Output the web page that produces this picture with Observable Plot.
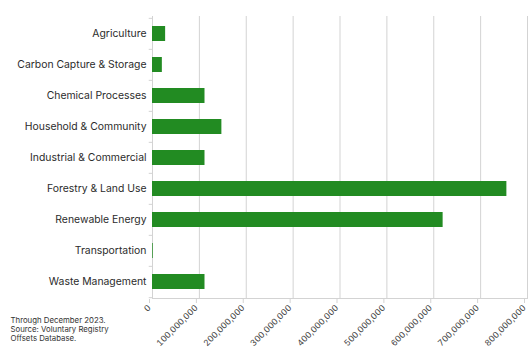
<!DOCTYPE html>
<html>
<head>
<meta charset="utf-8">
<script src="https://cdn.jsdelivr.net/npm/d3@7"></script>
<script src="https://cdn.jsdelivr.net/npm/@observablehq/plot@0.6"></script>
<style>
  html, body { margin: 0; padding: 0; background: #fff; }
  #chart svg { display: block; }
</style>
</head>
<body>
<div id="chart"></div>
<script>
const categories = [
  "Agriculture",
  "Carbon Capture & Storage",
  "Chemical Processes",
  "Household & Community",
  "Industrial & Commercial",
  "Forestry & Land Use",
  "Renewable Energy",
  "Transportation",
  "Waste Management"
];
const values = [28000000, 21000000, 112000000, 148000000, 112000000, 756000000, 620000000, 1500000, 112000000];
const xTicks = [0, 100000000, 200000000, 300000000, 400000000, 500000000, 600000000, 700000000, 800000000];
const captionLines = ["Through December 2023.", "Source: Voluntary Registry", "Offsets Database."];

const data = categories.map((c, i) => ({category: c, value: values[i]}));
const grid = "#d3d3d3";
const step = (353 - 55 - 16) / categories.length;

const chart = Plot.plot({
  width: 529,
  height: 353,
  marginLeft: 152,
  marginRight: 2,
  marginTop: 16,
  marginBottom: 55,
  style: {fontFamily: "Inter, sans-serif", color: "#333", background: "#fff"},
  x: {domain: [0, 800000000], ticks: xTicks},
  y: {domain: categories, paddingInner: 0.52, paddingOuter: 0.26, label: null},
  marks: [
    Plot.gridX(xTicks.slice(1), {stroke: grid, strokeOpacity: 1}),
    Plot.ruleX([0], {stroke: grid}),
    Plot.frame({anchor: "bottom", stroke: grid}),
    Plot.ruleY(categories, {y: d => d, x1: -7000000, x2: 0, dy: -step / 2, stroke: grid}),
    Plot.ruleY(categories.slice(-1), {y: d => d, x1: -7000000, x2: 0, dy: step / 2, stroke: grid}),
    Plot.barX(data, {y: "category", x: "value", fill: "#228b22"}),
    Plot.axisY({tickSize: 0, tickPadding: 6, fontSize: 10.4, label: null, fill: "#2b2b2b"}),
    Plot.axisX({ticks: xTicks, tickSize: 4, stroke: grid, tickRotate: -45, tickFormat: d3.format(","), fontSize: 8.5, label: null, fill: "#444", tickPadding: 3, dx: -3, dy: 1}),
    Plot.text([captionLines.join("\n")], {frameAnchor: "bottom-left", dx: -142, dy: 42, fontSize: 7.8, lineHeight: 1.1, fill: "#333", textAnchor: "start"})
  ]
});
document.getElementById("chart").appendChild(chart);
</script>
</body>
</html>
